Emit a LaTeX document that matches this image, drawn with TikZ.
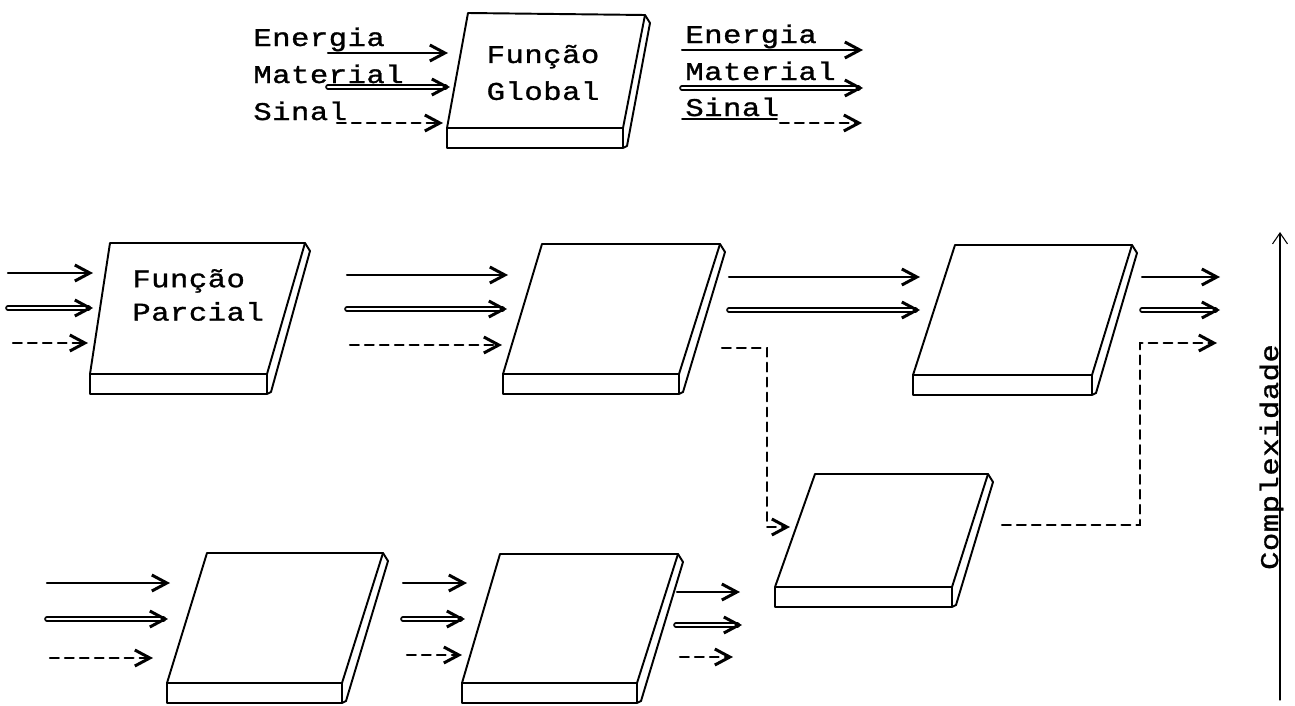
\documentclass[tikz,border=0pt]{standalone}
\RequirePackage{fontspec}
\RequirePackage{tikz}
\RequirePackage{tkz-euclide}
\usetikzlibrary{arrows.meta}

\setmonofont{Liberation Mono}[FakeStretch=1.2, FakeBold=1.2, LetterSpace=2]

\tikzset{
  ponta/.style={-{Straight Barb[length=3mm,width=3.2mm,line width=1.7pt]}},
  placa/.style={line width=1.1pt, line join=round},
  energia/.style={line width=1.2pt, ponta},
  material/.style={double, double distance=1.6pt, line width=0.8pt, ponta},
  sinal/.style={line width=1.2pt, dash pattern=on 5pt off 3.5pt, ponta},
  eixo/.style={line width=0.6pt, -{Straight Barb[length=2.2mm,width=3mm]}},
  rotulo/.style={font=\ttfamily\fontsize{14.5}{17}\selectfont, inner sep=0pt},
}

\newcommand\Placa[4]{%
  \tkzDrawPolygon[placa](#1,#2,#3,#4)
  \draw[placa] (#4) -- ++(0,-0.40) -| (#3);
  \draw[placa] (#2) -- ++(0.10,-0.16) -- ([shift={(0.08,-0.36)}]#3) -- ++(-0.08,-0.04);
}

\begin{document}
\begin{tikzpicture}
                \tkzInit[xmin=0,xmax=25.9,ymin=0,ymax=14.1]
                \tkzClip
                \tkzDefPoints{9.36/13.84/G1, 12.90/13.80/G2, 12.46/11.54/G3, 8.94/11.54/G4}
                \tkzDefPoints{2.20/9.24/A1, 6.10/9.24/A2, 5.34/6.62/A3, 1.80/6.62/A4}
                \tkzDefPoints{10.84/9.22/B1, 14.40/9.22/B2, 13.58/6.62/B3, 10.06/6.62/B4}
                \tkzDefPoints{19.10/9.20/C1, 22.64/9.20/C2, 21.84/6.60/C3, 18.26/6.60/C4}
                \tkzDefPoints{16.30/4.62/D1, 19.76/4.62/D2, 19.04/2.36/D3, 15.50/2.36/D4}
                \tkzDefPoints{4.14/3.04/E1, 7.66/3.04/E2, 6.84/0.44/E3, 3.34/0.44/E4}
                \tkzDefPoints{10.00/3.02/F1, 13.56/3.02/F2, 12.74/0.44/F3, 9.24/0.44/F4}

                \Placa{G1}{G2}{G3}{G4}
                \Placa{A1}{A2}{A3}{A4}
                \Placa{B1}{B2}{B3}{B4}
                \Placa{C1}{C2}{C3}{C4}
                \Placa{D1}{D2}{D3}{D4}
                \Placa{E1}{E2}{E3}{E4}
                \Placa{F1}{F2}{F3}{F4}

                \node[rotulo, align=center] (fg) at (10.86,12.65) {Função\\[4pt]Global};
                \node[rotulo, align=left, anchor=west] (fp) at (2.64,8.20) {Função\\[2pt]Parcial};

                \node[rotulo, anchor=base west] (le) at (5.06,13.18) {Energia};
                \node[rotulo, anchor=base west] (lm) at (5.06,12.44) {Material};
                \node[rotulo, anchor=base west] (ls) at (5.06,11.70) {Sinal};
                \node[rotulo, anchor=base west] (re) at (13.70,13.24) {Energia};
                \node[rotulo, anchor=base west] (rm) at (13.70,12.50) {Material};
                \node[rotulo, anchor=base west] (rs) at (13.70,11.78) {Sinal};

                \tkzDefPoints{6.56/13.04/ge1, 8.96/13.04/ge2, 6.56/12.36/gm1, 9.00/12.36/gm2, 6.74/11.64/gs1, 8.86/11.64/gs2}
                \tkzDefPoints{13.64/13.10/ge3, 17.26/13.10/ge4, 13.64/12.34/gm3, 17.26/12.34/gm4}
                \tkzDefPoints{13.64/11.72/gs3, 15.54/11.72/gs4, 15.60/11.64/gs5, 17.24/11.64/gs6}
                \tkzDrawSegments[energia](ge1,ge2 ge3,ge4)
                \tkzDrawSegments[material](gm1,gm2 gm3,gm4)
                \tkzDrawSegments[sinal](gs1,gs2 gs5,gs6)
                \tkzDrawSegment[line width=1.1pt](gs3,gs4)

                \tkzDefPoints{0.16/8.64/ae1, 1.86/8.64/ae2, 0.16/7.94/am1, 1.86/7.94/am2, 0.26/7.24/as1, 1.76/7.24/as2}
                \tkzDefPoints{6.94/8.60/be1, 10.16/8.60/be2, 6.94/7.92/bm1, 10.14/7.92/bm2, 7.00/7.20/bs1, 10.04/7.20/bs2}
                \tkzDefPoints{14.58/8.56/ce1, 18.40/8.56/ce2, 14.58/7.90/cm1, 18.40/7.90/cm2}
                \tkzDefPoints{22.84/8.56/ze1, 24.40/8.56/ze2, 22.84/7.90/zm1, 24.40/7.90/zm2}
                \tkzDrawSegments[energia](ae1,ae2 be1,be2 ce1,ce2 ze1,ze2)
                \tkzDrawSegments[material](am1,am2 bm1,bm2 cm1,cm2 zm1,zm2)
                \tkzDrawSegments[sinal](as1,as2 bs1,bs2)

                \tkzDefPoints{14.44/7.14/ds1, 15.34/7.14/ds2, 15.34/3.56/ds3, 15.80/3.56/ds4}
                \tkzDefPoints{20.04/3.60/ds5, 22.80/3.60/ds6, 22.80/7.24/ds7, 24.34/7.24/ds8}
                \tkzDrawPolySeg[sinal](ds1,ds2,ds3,ds4)
                \tkzDrawPolySeg[sinal](ds5,ds6,ds7,ds8)

                \tkzDefPoints{0.94/2.44/ee1, 3.40/2.44/ee2, 0.94/1.72/em1, 3.36/1.72/em2, 1.00/0.94/es1, 3.06/0.94/es2}
                \tkzDefPoints{8.06/2.44/fe1, 9.34/2.44/fe2, 8.06/1.72/fm1, 9.30/1.72/fm2, 8.14/1.00/fs1, 9.24/1.00/fs2}
                \tkzDefPoints{13.54/2.26/oe1, 14.80/2.26/oe2, 13.52/1.60/om1, 14.84/1.60/om2, 13.60/0.96/os1, 14.66/0.96/os2}
                \tkzDrawSegments[energia](ee1,ee2 fe1,fe2 oe1,oe2)
                \tkzDrawSegments[material](em1,em2 fm1,fm2 om1,om2)
                \tkzDrawSegments[sinal](es1,es2 fs1,fs2 os1,os2)

                \tkzDefPoints{25.60/0.10/x1, 25.60/9.46/x2}
                \tkzDrawSegment[eixo](x1,x2)
                \node[rotulo, rotate=90, anchor=base] (cx) at (25.56,4.96) {Complexidade};
\end{tikzpicture}
\end{document}
